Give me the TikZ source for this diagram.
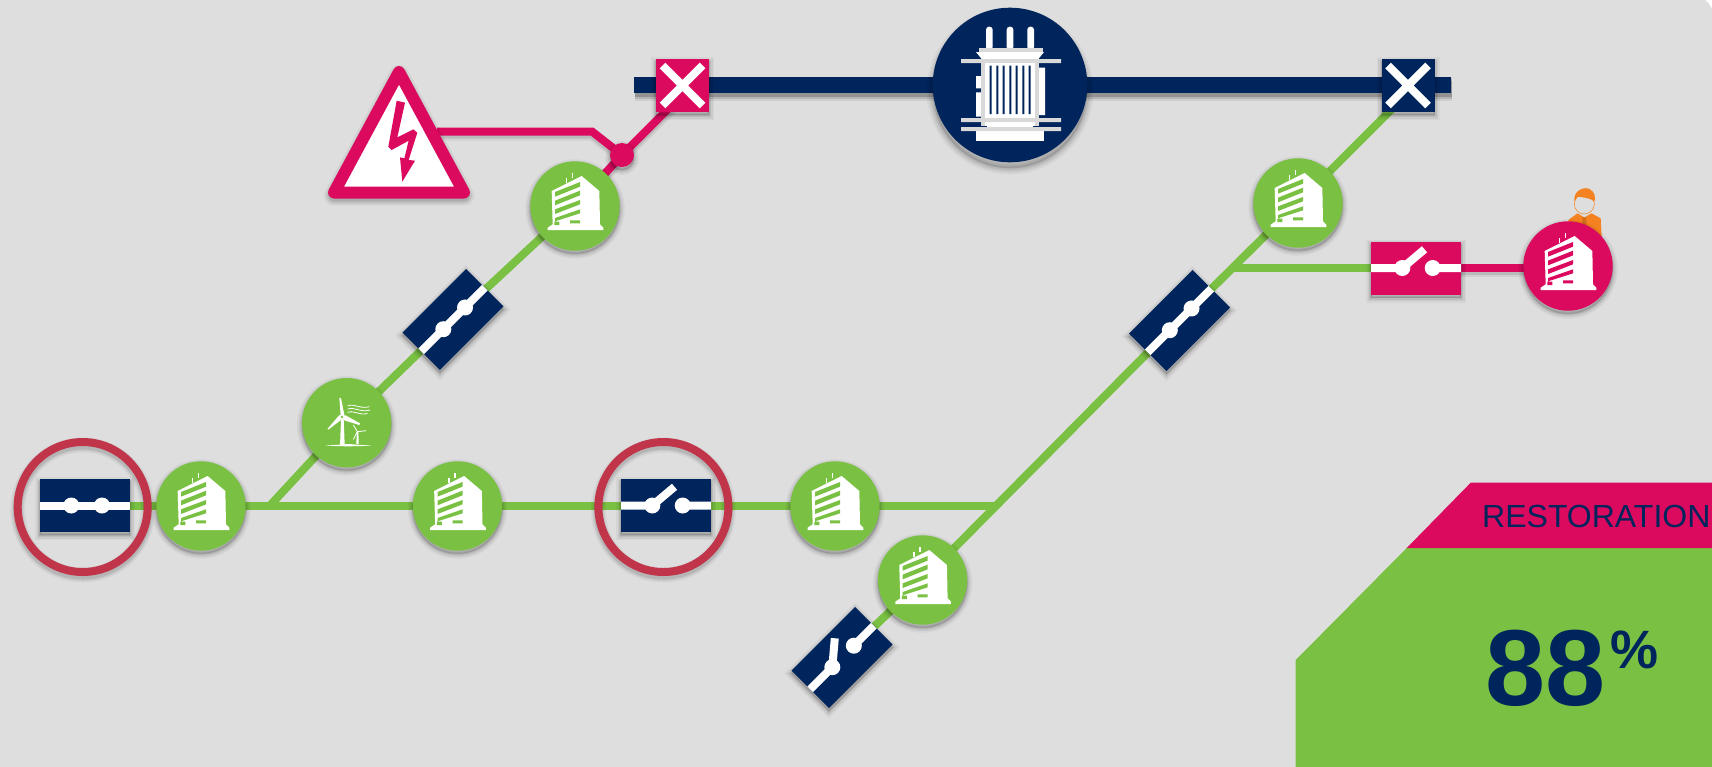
\documentclass[tikz,border=0pt]{standalone}
\usepackage{fontspec}
\setmainfont{Liberation Sans}
\usetikzlibrary{calc}
\definecolor{navy}{HTML}{00245C}
\definecolor{hot}{HTML}{DB0A5E}
\definecolor{lime}{HTML}{7AC143}
\definecolor{bgc}{HTML}{DEDEDE}
\definecolor{ringc}{HTML}{C0354A}
\definecolor{lgrey}{HTML}{D9D9D9}
\definecolor{orng}{HTML}{F58220}
\pgfdeclarelayer{bglayer}
\pgfdeclarelayer{lines}
\pgfsetlayers{bglayer,lines,main}
\tikzset{
  softshadow/.style={
    preaction={draw=black,draw opacity=.04,line width=10pt,transform canvas={yshift=-3pt}},
    preaction={draw=black,draw opacity=.05,line width=7pt,transform canvas={yshift=-3pt}},
    preaction={draw=black,draw opacity=.07,line width=4pt,transform canvas={yshift=-3pt}},
    preaction={draw=black,draw opacity=.09,line width=1.5pt,transform canvas={yshift=-3pt}},
    preaction={fill=black,fill opacity=.12,transform canvas={yshift=-3pt}}},
  bubble/.style={circle,inner sep=0pt,minimum size=89.4pt,fill=lime,softshadow},
  hotbubble/.style={bubble,fill=hot},
  switchbox/.style={rectangle,inner sep=0pt,minimum width=90pt,minimum height=53pt,fill=navy,softshadow},
  xbox/.style={rectangle,inner sep=0pt,minimum size=53pt,softshadow},
  bigbubble/.style={circle,inner sep=0pt,minimum size=154.6pt,fill=navy,
    preaction={draw=black,draw opacity=.04,line width=12pt,transform canvas={yshift=-6pt}},
    preaction={draw=black,draw opacity=.06,line width=8pt,transform canvas={yshift=-6pt}},
    preaction={draw=black,draw opacity=.08,line width=4pt,transform canvas={yshift=-6pt}},
    preaction={fill=black,fill opacity=.15,transform canvas={yshift=-6pt}}},
  ringnode/.style={circle,inner sep=0pt,minimum size=130pt,
    preaction={draw=black,draw opacity=.04,line width=15pt,transform canvas={yshift=-3pt}},
    preaction={draw=black,draw opacity=.06,line width=12pt,transform canvas={yshift=-3pt}},
    preaction={draw=black,draw opacity=.09,line width=9pt,transform canvas={yshift=-3pt}},
    draw=ringc,line width=8pt},
  feeder/.style={draw=lime,line width=8pt},
  fault/.style={draw=hot,line width=8pt,
    preaction={draw=black,draw opacity=.06,line width=12pt,transform canvas={yshift=-3pt}},
    preaction={draw=black,draw opacity=.10,line width=8pt,transform canvas={yshift=-3pt}}},
  busbar/.style={draw=navy,line width=16pt,
    preaction={draw=black,draw opacity=.07,line width=24pt,transform canvas={xshift=1pt,yshift=-4pt}},
    preaction={draw=black,draw opacity=.12,line width=20pt,transform canvas={xshift=1pt,yshift=-4pt}},
    preaction={draw=black,draw opacity=.18,line width=16pt,transform canvas={xshift=1pt,yshift=-4pt}}},
  signstroke/.style={draw=hot,fill=white,line width=12pt,line join=round,
    preaction={draw=black,draw opacity=.05,line width=20pt,line join=round,transform canvas={yshift=-3pt}},
    preaction={draw=black,draw opacity=.08,line width=16pt,line join=round,transform canvas={yshift=-3pt}},
    preaction={draw=black,draw opacity=.10,line width=12pt,line join=round,transform canvas={yshift=-3pt}}},
  whitebar/.style={draw=white,line width=8pt},
  bldg/.pic={
    \fill[white] (-70,-45)--(20,-90)--(73,-45)--(75,55)--(85,65)--(85,72)--(-82,72)--(-82,65)--(-67,55)--cycle;
    \draw[white,line width=1.6pt] (-25,-84)--(-25,-70) (-7,-98)--(-7,-85);
    \fill[#1] (-60,-42)--(15,-72)--(15,-58)--(-60,-28)--cycle
      (-60,-16)--(15,-46)--(15,-32)--(-60,-2)--cycle
      (-60,10)--(15,-18)--(15,-5)--(-60,24)--cycle
      (-60,36)--(15,10)--(15,22)--(-60,46)--cycle
      (-62,47) rectangle (-47,57)
      (-15,43) rectangle (15,52);
  },
  closedsw/.pic={
    \draw[whitebar] (-45,0)--(45,0);
    \fill[white] (-13.7,0) circle[radius=8] (17,0) circle[radius=8];
  },
  opensw/.pic={
    \draw[whitebar] (-45,0)--(-13.7,0) (16.7,0)--(45,0) (-13.7,0)--(8.5,-18.7);
    \fill[white] (-13.7,0) circle[radius=8] (16.7,0) circle[radius=8];
  },
  crosssign/.pic={
    \draw[white,line width=8pt] (-20,-20)--(20,20) (-20,20)--(20,-20);
  }
}
\begin{document}
\begin{tikzpicture}[x=1pt,y=-1pt]
\useasboundingbox (0,0) rectangle (1712,766.5);
\begin{pgfonlayer}{bglayer}
\fill[white] (0,0) rectangle (1712,768);
\fill[bgc] (0,0)--(1705,0)..controls (1708,2) and (1710,5) ..(1712,9)--(1712,768)--(0,768)--cycle;
\end{pgfonlayer}

% nodes
\node[bigbubble] (tr) at (1010,85) {};
\node[hotbubble] (b8) at (1568,266) {};
\node[bubble] (b1) at (575,206) {};
\node[bubble] (wind) at (346.7,422.7) {};
\node[bubble] (b2) at (201,506) {};
\node[bubble] (b3) at (457.5,506) {};
\node[bubble] (b4) at (835,506) {};
\node[bubble] (b5) at (922.6,580) {};
\node[bubble] (b6) at (1298,203) {};
\node[switchbox] (sw1) at (85,505.5) {};
\node[switchbox] (sw2) at (666,505.5) {};
\node[switchbox,rotate=45] (swA) at (453,319.5) {};
\node[switchbox,rotate=45] (swB) at (1179.5,320.5) {};
\node[switchbox,rotate=45] (swC) at (842,657.5) {};
\node[switchbox,fill=hot] (swP) at (1416,268) {};
\node[xbox,fill=hot] (xP) at (682.5,85.5) {};
\node[xbox,fill=navy] (xN) at (1408,85.5) {};
\node[ringnode] (r1) at (82.7,507) {};
\node[ringnode] (r2) at (663.4,507) {};
\node[circle,inner sep=0pt,minimum size=24pt,fill=hot,softshadow] (dot) at (622,155) {};
\coordinate (busL) at (634,85);
\coordinate (busR) at (1451,85);
\coordinate (j0) at (270,505.5);
\coordinate (j1) at (995,505.5);
\coordinate (j2) at (1234,268);
\coordinate (xfoot) at (1396,105);
\coordinate (xfootP) at (672,105);
\coordinate (triR) at (437,131.5);
\coordinate (bend) at (592,131.5);

% connectors
\begin{pgfonlayer}{lines}
\path[busbar] (busL)--(tr.center)--(busR);
\path[feeder] (sw1.center)--(sw2.center)--(j1);
\path[feeder] (j0)--(wind.center)--(swA.center)--(b1.center);
\path[feeder] (xfoot)--(b6.center)--(swB.center)--(b5.center)--(swC.center);
\path[feeder] (j2)--(swP.center);
\path[fault] (swP.center)--(swP.center -| b8.center);
\path[fault] (b1.center)--(dot.center)--(xfootP);
\path[fault] (triR)--(bend)--(dot.center);
\end{pgfonlayer}

% switch faces
\pic at (sw1) {closedsw};
\pic at (sw2) {opensw};
\pic[rotate=45] at (swA) {closedsw};
\pic[rotate=45] at (swB) {closedsw};
\pic[rotate=45] at (swC) {opensw};
\pic at (swP) {opensw};
\pic at (xP) {crosssign};
\pic at (xN) {crosssign};

% buildings
\pic[scale=1/3] at (b1) {bldg=lime};
\pic[scale=1/3] at (b2) {bldg=lime};
\pic[scale=1/3] at (b3) {bldg=lime};
\pic[scale=1/3] at (b4) {bldg=lime};
\pic[scale=1/3] at (b5) {bldg=lime};
\pic[scale=1/3] at (b6) {bldg=lime};

% person behind the hot building
\begin{scope}[shift={(1340,170)},scale=1/3]
\begin{pgfonlayer}{lines}
\fill[orng] (685,150)--(712,130)--(733,142)--(755,130)--(782,145)--(785,200)--(685,200)--cycle;
\fill[bgc] (722,128)--(745,128)--(733,142)--cycle;
\draw[orng,line width=.5pt,fill=bgc] (733,102) ellipse[x radius=30,y radius=30];
\fill[orng] (703,95)..controls (698,60) and (735,48) ..(750,58)..controls (765,65) and (767,85) ..(763,95)..controls (755,85) and (730,82) ..(712,80)--cycle;
\fill[orng!85!black] (728,142)--(738,142)--(740,165)--(726,165)--cycle;
\end{pgfonlayer}
\end{scope}
\pic[scale=1/3] at (b8) {bldg=hot};

% transformer icon
\begin{scope}[shift={(tr.center)},scale=1/3,shift={(-330,-255)}]
\fill[white,rounded corners=3pt] (258,80) rectangle (278,150) (320,80) rectangle (340,150) (382,80) rectangle (402,150);
\fill[lgrey] (237,145) rectangle (430,156);
\fill[white] (228,156)--(432,156)--(415,177)--(245,177)--cycle;
\fill[white] (228,228) rectangle (245,265) (228,277) rectangle (245,350) (417,203) rectangle (435,345);
\fill[white] (262,366) rectangle (400,381);
\fill[white] (229,393) rectangle (433,423);
\fill[lgrey] (243,177) rectangle (417,378);
\fill[white] (255,366) rectangle (405,378);
\fill[lgrey] (183,177) rectangle (483,189) (183,354) rectangle (483,366) (183,381) rectangle (483,393);
\fill[white] (255,189) rectangle (405,354);
\fill[navy] (269,197) rectangle (275,342) (289,197) rectangle (295,342) (308,197) rectangle (314,342) (328,197) rectangle (334,342) (347,197) rectangle (353,342) (367,197) rectangle (373,342) (386,197) rectangle (392,342);
\end{scope}

% wind icon
\begin{scope}[shift={(wind.center)},scale=1/3,shift={(-200,-188)}]
\fill[white] (183,178)--(191,178)--(194,255)--(180,255)--cycle;
\fill[white] (178,113)--(183,115)--(193,165)--(182,168)--cycle;
\fill[white] (142,207)--(178,165)--(185,178)--(146,208)--cycle;
\fill[white] (240,190)--(238,195)--(190,180)--(195,165)--cycle;
\fill[white] (186,171) circle[radius=9];
\fill[lime] (186,171) circle[radius=4];
\fill[white] (135,257)--(205,252)--(275,257)--(205,259)--cycle;
\fill[white] (230,215)--(235,215)--(236,252)--(229,252)--cycle;
\draw[white,line width=.8pt] (232,215)--(220,195) (232,215)--(258,212) (232,215)--(220,238);
\draw[white,line width=.8pt] (203,137)..controls (225,130) and (240,148) ..(268,140)
  (203,147)..controls (225,140) and (240,158) ..(270,150)
  (203,157)..controls (225,150) and (240,168) ..(262,160);
\end{scope}

% warning sign
\path[signstroke] (399,72)--(464,192.5)--(334,192.5)--cycle;
\begin{scope}[shift={(310,50)},scale=1/3]
\fill[hot] (260,152)--(285,158)--(262,262)--(310,238)--(322,248)--(296,330)--(315,332)--(277,395)--(270,322)--(283,325)--(296,272)--(245,300)--(235,290)--cycle;
\end{scope}

% restoration panel
\fill[lime] (1295.7,660)--(1406.7,548)--(1712,548)--(1712,768)--(1295.7,768)--cycle;
\fill[hot] (1406.7,548)--(1470.7,482.7)--(1712,482.7)--(1712,548)--cycle;
\node[anchor=base west,inner sep=0pt,text=navy,font=\fontsize{32}{32}\selectfont] (lab) at (1482,527.3) {RESTORATION};
\node[anchor=base west,inner sep=0pt,text=navy,font=\fontsize{108}{108}\selectfont\bfseries] (val) at (1485,705) {88};
\node[anchor=base west,inner sep=0pt,text=navy,font=\fontsize{54}{54}\selectfont\bfseries] (pct) at (1610.5,668) {\%};
\end{tikzpicture}
\end{document}
